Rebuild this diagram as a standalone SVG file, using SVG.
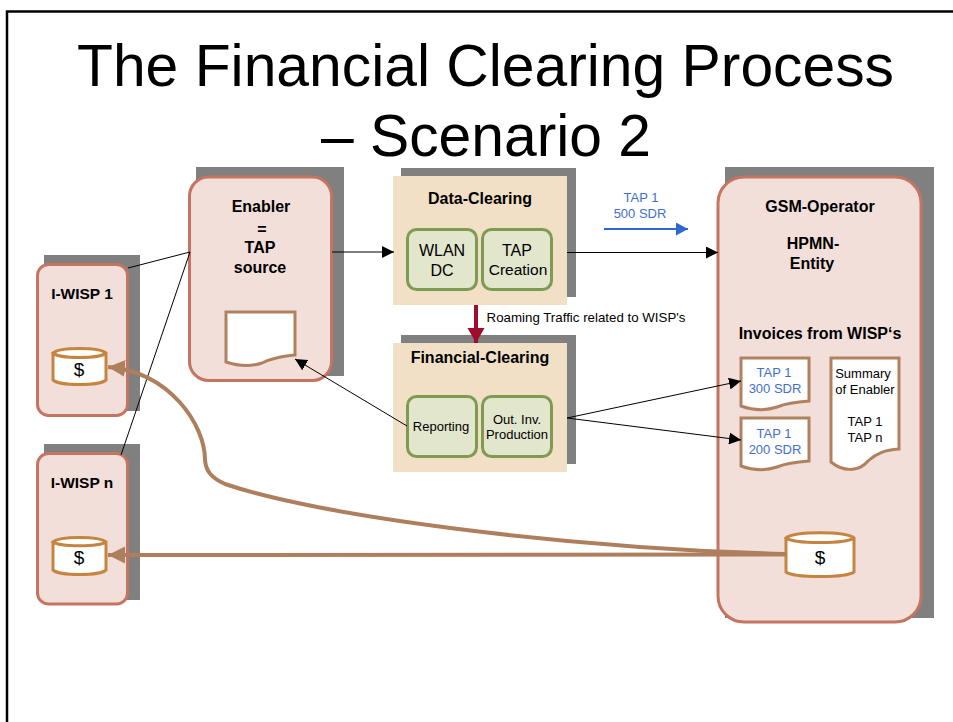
<svg xmlns="http://www.w3.org/2000/svg" width="953" height="722" viewBox="0 0 953 722">
<style>
text{font-family:"Liberation Sans",Arial,sans-serif;text-anchor:middle;fill:#000}
.sh{fill:#808080}
.big{fill:#f2dfda;stroke:#c47461;stroke-width:3}
.box{fill:#f2e0c6}
.in{fill:#e1e6cd;stroke:#7f9b52;stroke-width:3}
.doc{fill:#fff;stroke:#b0815f;stroke-width:3}
.cyl{fill:#fff;stroke:#c58440;stroke-width:3}
.b{font-weight:bold;font-size:16px}
.w{font-weight:bold;font-size:15.500px}
.blue{fill:#3f6fd0;font-size:13px}
.thin{fill:none;stroke:#000;stroke-width:1}
.brown{fill:none;stroke:#ae7f5d;stroke-width:4}
</style>
<defs>
<marker id="ah" markerUnits="userSpaceOnUse" markerWidth="13" markerHeight="12" refX="12" refY="6" orient="auto"><path d="M0,0L12,6L0,12z" fill="#000"/></marker>
<marker id="ahb" markerUnits="userSpaceOnUse" markerWidth="18" markerHeight="18" refX="17" refY="8.5" orient="auto"><path d="M0,0L17,8.5L0,17z" fill="#ae7f5d"/></marker>
<marker id="ahu" markerUnits="userSpaceOnUse" markerWidth="13" markerHeight="14" refX="12" refY="6.5" orient="auto"><path d="M0,0L12,6.5L0,13z" fill="#2f67d0"/></marker>
<marker id="ahr" markerUnits="userSpaceOnUse" markerWidth="18" markerHeight="18" refX="15" refY="8.5" orient="auto"><path d="M0,0L15,8.5L0,17z" fill="#a00d2a"/></marker>
</defs>
<path d="M7,722V11.500H953" fill="none" stroke="#000" stroke-width="2.500"/>
<text x="485.500" y="86" style="font-size:58.800px">The Financial Clearing Process</text>
<text x="486" y="156" style="font-size:58.800px">– Scenario 2</text>

<g id="enabler">
<rect class="sh" x="196" y="167" width="148" height="209"/>
<rect class="big" x="189.500" y="177" width="142" height="203.500" rx="19"/>
<text class="b" x="261" y="212">Enabler</text><text class="b" x="262" y="235">=</text><text class="b" x="260" y="253">TAP</text><text class="b" x="260" y="273">source</text>
<path class="doc" d="M226,312H295V355C280,357 272,358 262,363C250,367 238,366 226,362Z"/>
</g>
<g id="iwisp1">
<rect class="sh" x="44" y="255" width="96" height="156"/>
<rect class="big" x="37.500" y="264.500" width="90" height="151" rx="11"/>
<text class="w" x="82" y="299">I-WISP 1</text>
<path class="cyl" d="M53,353V380C60,386 99,386 106,380V353C99,347 60,347 53,353C60,359 99,359 106,353"/>
<text x="79" y="376" style="font-size:19px">$</text>
</g>
<g id="iwispn">
<rect class="sh" x="44" y="444" width="96" height="156"/>
<rect class="big" x="37.500" y="453.500" width="90" height="150.500" rx="11"/>
<text class="w" x="82" y="488">I-WISP n</text>
<path class="cyl" d="M53,542V570C60,576 99,576 106,570V542C99,536 60,536 53,542C60,547 99,547 106,542"/>
<text x="79" y="564" style="font-size:19px">$</text>
</g>
<g id="dataclearing">
<rect class="sh" x="401" y="168" width="175" height="129"/>
<rect class="box" x="393" y="176" width="174" height="129"/>
<text class="b" x="480" y="204">Data-Clearing</text>
<rect class="in" x="407.500" y="229.500" width="69" height="60" rx="9"/>
<rect class="in" x="482.500" y="229.500" width="69" height="60" rx="9"/>
<text x="442" y="256" style="font-size:16px">WLAN</text><text x="442" y="276" style="font-size:16px">DC</text>
<text x="517" y="256" style="font-size:16px">TAP</text><text x="518" y="275" style="font-size:15.500px">Creation</text>
</g>
<g id="financialclearing">
<rect class="sh" x="401" y="335" width="175" height="129"/>
<rect class="box" x="393" y="343" width="174" height="129"/>
<text class="b" x="480" y="363">Financial-Clearing</text>
<rect class="in" x="407.500" y="396.500" width="69" height="60" rx="9"/>
<rect class="in" x="482.500" y="396.500" width="69" height="60" rx="9"/>
<text x="441" y="431" style="font-size:13px">Reporting</text>
<text x="517" y="424" style="font-size:13px">Out. Inv.</text><text x="517" y="439" style="font-size:13px">Production</text>
</g>
<g id="gsm">
<rect class="sh" x="725" y="167" width="209" height="451"/>
<rect class="big" x="718" y="177" width="203" height="445" rx="26"/>
<text class="b" x="820" y="212">GSM-Operator</text>
<text class="b" x="813" y="249">HPMN-</text><text class="b" x="812" y="269">Entity</text>
<text class="b" x="820" y="339">Invoices from WISP‘s</text>
<path class="doc" d="M741,358H809V401C795,402 787,403 777,407C765,411 752,410 741,406Z"/>
<text class="blue" x="774" y="377">TAP 1</text><text class="blue" x="775" y="393">300 SDR</text>
<path class="doc" d="M741,418H809V461C795,462 787,463 777,467C765,471 752,470 741,466Z"/>
<text class="blue" x="774" y="438">TAP 1</text><text class="blue" x="775" y="454">200 SDR</text>
<path class="doc" d="M831,358H899V449C885,450 877,453 868,461C858,473 842,471 831,462Z"/>
<text x="863" y="378" style="font-size:13px">Summary</text><text x="865" y="394" style="font-size:13px">of Enabler</text>
<text x="865" y="426" style="font-size:13px">TAP 1</text><text x="865" y="442" style="font-size:13px">TAP n</text>
<path class="cyl" d="M786,538V572C794,578 846,578 854,572V538C846,531 794,531 786,538C794,544 846,544 854,538"/>
<text x="820" y="564" style="font-size:19px">$</text>
</g>
<g id="connectors">
<path class="thin" d="M128,268L190,252M121,455L190,252"/>
<path class="thin" marker-end="url(#ah)" d="M332,252H394"/>
<path class="thin" marker-end="url(#ah)" d="M567,252.500H718"/>
<path class="thin" marker-end="url(#ah)" d="M407,426L295,359"/>
<path class="thin" marker-end="url(#ah)" d="M567,418L741,381"/>
<path class="thin" marker-end="url(#ah)" d="M567,418L741,440"/>
<path d="M604,229H688" fill="none" stroke="#2f67d0" stroke-width="2" marker-end="url(#ahu)"/>
<path d="M476,305V343" fill="none" stroke="#a00d2a" stroke-width="4" marker-end="url(#ahr)"/>
<path class="brown" marker-end="url(#ahb)" d="M786,554C560,548 320,516 225,484C212,478 206,472 205,460C205,425 170,372 108,367"/>
<path class="brown" marker-end="url(#ahb)" d="M786,554.500L108,555"/>
<text x="586" y="322" style="font-size:13.300px">Roaming Traffic related to WISP's</text>
<text class="blue" x="641" y="202">TAP 1</text><text class="blue" x="640" y="218">500 SDR</text>
</g>
</svg>
